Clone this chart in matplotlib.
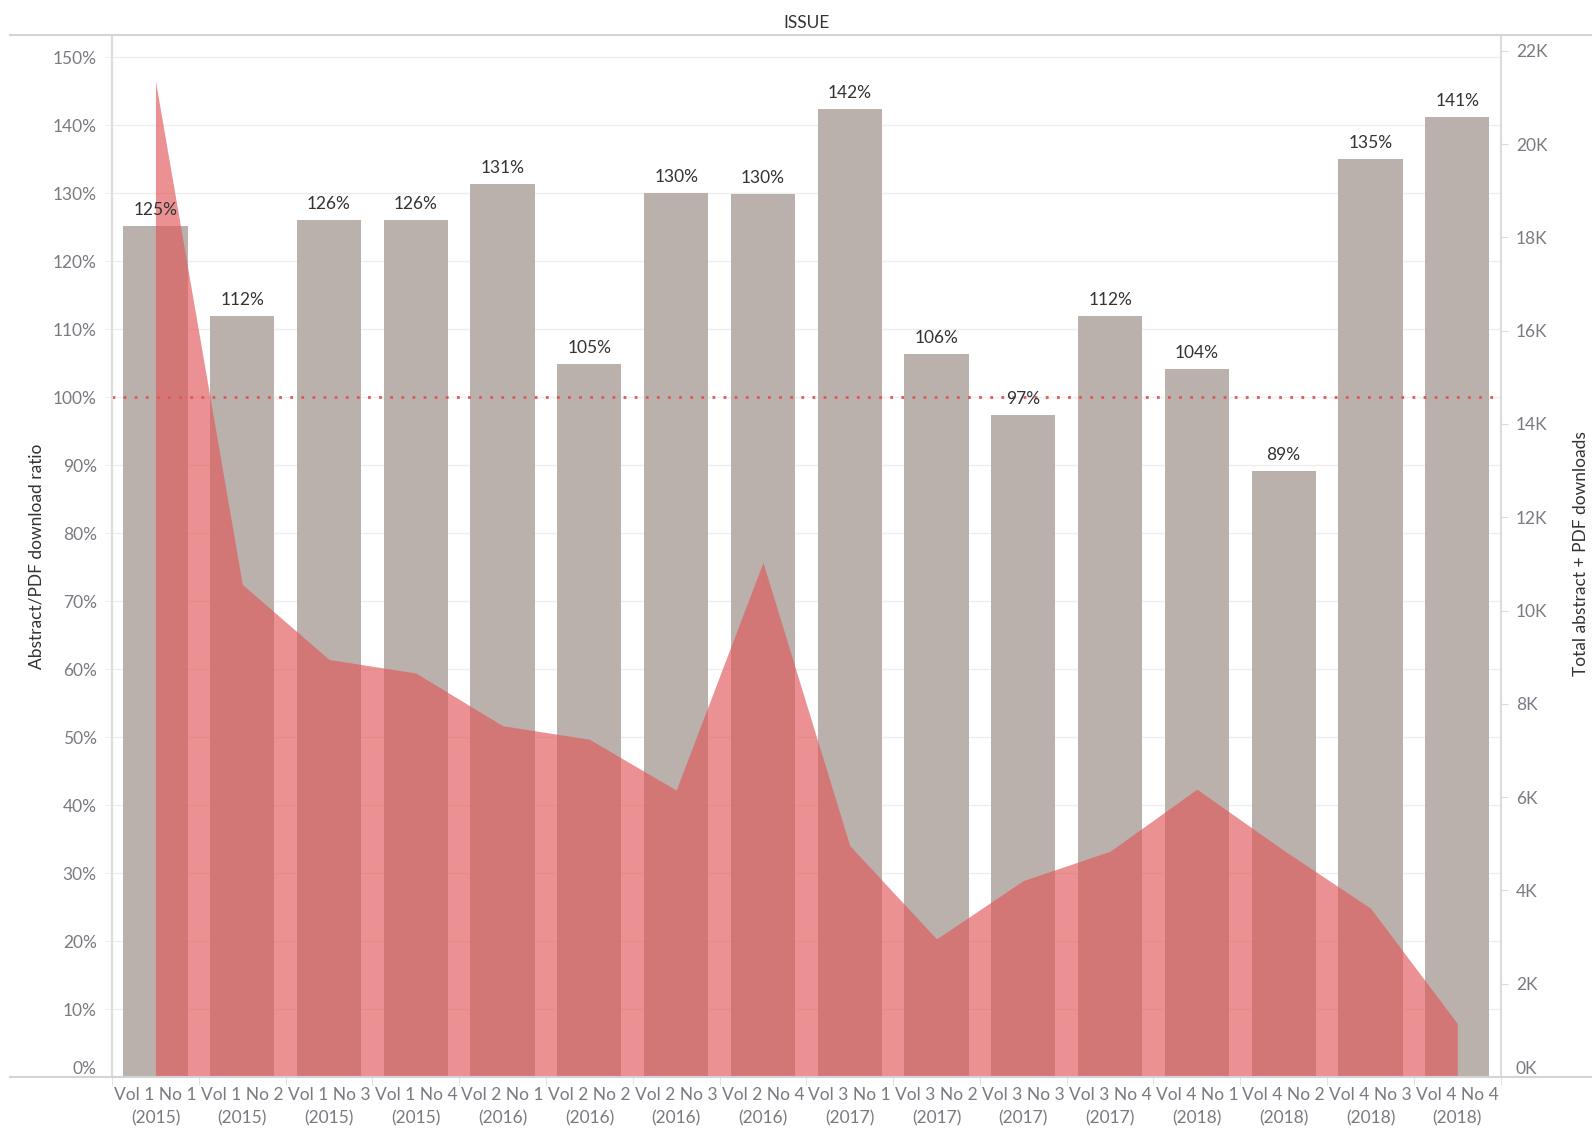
import matplotlib.pyplot as plt
from matplotlib import ticker
from matplotlib.lines import Line2D
import numpy as np

plt.rcParams['font.family'] = ['Lato', 'DejaVu Sans']

# Data
issues = ["Vol 1 No 1", "Vol 1 No 2", "Vol 1 No 3", "Vol 1 No 4",
          "Vol 2 No 1", "Vol 2 No 2", "Vol 2 No 3", "Vol 2 No 4",
          "Vol 3 No 1", "Vol 3 No 2", "Vol 3 No 3", "Vol 3 No 4",
          "Vol 4 No 1", "Vol 4 No 2", "Vol 4 No 3", "Vol 4 No 4"]
years = ["2015", "2015", "2015", "2015", "2016", "2016", "2016", "2016",
         "2017", "2017", "2017", "2017", "2018", "2018", "2018", "2018"]
ratio = [125.2, 112.0, 126.1, 126.1, 131.4, 104.9, 130.0, 129.9,
         142.4, 106.4, 97.4, 112.0, 104.2, 89.2, 135.1, 141.2]
downloads = [21350, 10560, 8950, 8660, 7530, 7240, 6150, 11030,
             4960, 2960, 4210, 4840, 6170, 4860, 3620, 1150]

BAR_COLOR = "#bab0ac"
AREA_COLOR = "#e15759"
TICK_COLOR = "#7a7a82"
TEXT_COLOR = "#333333"

fig = plt.figure(figsize=(15.92, 11.32), dpi=100)
ax = fig.add_axes([0.0704, 0.0486, 0.8722, 0.9205])
ax2 = ax.twinx()

x = np.arange(len(issues))

# Bars (ratio, left axis)
ax.bar(x, ratio, width=0.74, color=BAR_COLOR, zorder=2)
ax.set_ylim(0, 153.3)
ax.set_xlim(-0.5, len(issues) - 0.5)
ax.yaxis.set_major_locator(ticker.MultipleLocator(10))
ax.yaxis.set_major_formatter(ticker.FuncFormatter(lambda v, p: f"{int(round(v))}%"))
ax.grid(axis="y", color="#eeeeee", linewidth=1, zorder=0)
ax.set_axisbelow(True)

# Area (downloads, right axis)
ax2.fill_between(x, downloads, 0, color=AREA_COLOR, alpha=0.65, linewidth=0)
ax2.set_ylim(0, 22338)
ax2.yaxis.set_major_locator(ticker.MultipleLocator(2000))
ax2.yaxis.set_major_formatter(ticker.FuncFormatter(lambda v, p: f"{int(round(v / 1000))}K"))

# Reference line at 100% and bar labels, drawn above the area
ax2.plot([-0.5, len(issues) - 0.5], [100, 100], transform=ax.transData,
         color=AREA_COLOR, linestyle=(0, (1, 3)), linewidth=2)
for xi, r in zip(x, ratio):
    ax2.text(xi, r + 1.2, f"{round(r)}%", transform=ax.transData, ha="center", va="bottom",
             fontsize=12.5, color=TEXT_COLOR)

# Axis ticks
ax.set_xticks(x)
ax.set_xticklabels([f"{i}\n({y})" for i, y in zip(issues, years)],
                   fontsize=12.5, color=TICK_COLOR, linespacing=1.55)
ax.set_xticks(np.arange(-0.5, len(issues)), minor=True)
ax.tick_params(axis="x", which="major", length=0, pad=7)
ax.tick_params(axis="x", which="minor", length=6, color="#dddddd")
ax.tick_params(axis="y", length=5, color="#eeeeee", labelsize=12.5, labelcolor=TICK_COLOR, pad=6)
ax2.tick_params(axis="y", length=5, color="#dddddd", labelsize=12.5, labelcolor=TICK_COLOR, pad=6)

# Axis labels
ax.set_ylabel("Abstract/PDF download ratio", fontsize=12.5, color=TEXT_COLOR, labelpad=6)
fig.text(1581 / 1592, 0.511, "Total abstract + PDF downloads", rotation=90,
         ha="center", va="center", fontsize=12.5, color=TEXT_COLOR)
ax.set_title("ISSUE", fontsize=12.5, color=TEXT_COLOR, pad=5)

# Spines
for a in (ax, ax2):
    a.spines["top"].set_visible(False)
    a.spines["bottom"].set_visible(False)
    a.spines["left"].set_color("#dddddd")
    a.spines["right"].set_color("#dddddd")
    a.spines["left"].set_linewidth(1.5)
    a.spines["right"].set_linewidth(1.5)

# Header and baseline rules across the whole figure
top = 0.0486 + 0.9205
fig.add_artist(Line2D([10 / 1592, 1], [top, top], color="#d4d4d4", linewidth=1.5))
fig.add_artist(Line2D([10 / 1592, 1], [0.0486, 0.0486], color="#d4d4d4", linewidth=1.5))

# lift the zero labels above the baseline, like the original
fig.canvas.draw()
for tick in ax.yaxis.get_major_ticks():
    if abs(tick.get_loc()) < 1e-9:
        tick.label1.set_verticalalignment("bottom")
for tick in ax2.yaxis.get_major_ticks():
    if abs(tick.get_loc()) < 1e-9:
        tick.label2.set_verticalalignment("bottom")

plt.savefig("out.png", dpi=100)
